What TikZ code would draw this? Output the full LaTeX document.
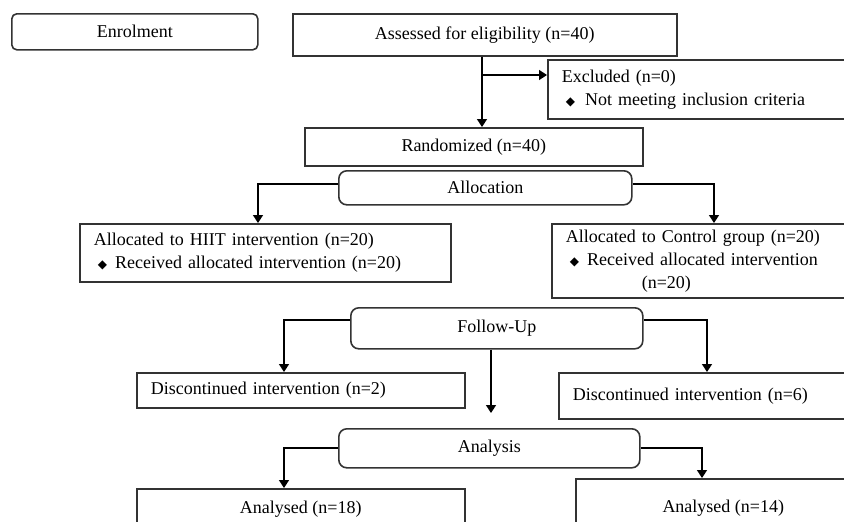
\documentclass[tikz,border=0pt]{standalone}
\usepackage{fontspec}
\setmainfont{Liberation Serif}
\newfontfamily\symfont{DejaVu Sans}
\usepackage{tikz}
\usetikzlibrary{arrows.meta, positioning}
\newcommand{\dmd}{{\symfont\fontsize{6}{6}\selectfont ◆}}

\begin{document}
\begin{tikzpicture}[
    x=0.5pt, y=-0.5pt,
    font=\fontsize{9}{11.5}\selectfont,
    box/.style={draw=black!80, line width=0.8pt, anchor=north west, inner ysep=2pt},
    lbox/.style={box, align=left, inner xsep=7pt},
    cbox/.style={box, align=center, inner sep=2pt},
    rbox/.style={cbox, rounded corners=4pt},
    arr/.style={line width=0.7pt, -{Triangle[length=4pt, width=5pt]}},
  ]
    \useasboundingbox (0,0) rectangle (844,521);
    \clip (0,0) rectangle (844,521);
    % enrolment
    \node[rbox, rounded corners=2.5pt, minimum width=123pt, minimum height=18pt]
          (enrol) at (11,13) {Enrolment};
    \node[cbox, minimum width=192pt, minimum height=21pt]
          (assess) at (292,13) {Assessed for eligibility (n=40)};
    \node[lbox, text width=147.5pt, minimum height=29.5pt]
          (excl) at (547,59) {Excluded (n=0)\\\hspace*{2pt}\dmd\hspace{5pt}Not meeting inclusion criteria};
    \node[cbox, minimum width=169pt, minimum height=19pt]
          (rand) at (304,127) {Randomized (n=40)};
    % allocation
    \node[rbox, minimum width=146.5pt, minimum height=17pt]
          (alloc) at (338,170) {Allocation};
    \node[lbox, text width=171.5pt, minimum height=29pt]
          (hiit) at (79,223) {Allocated to HIIT intervention (n=20)\\\hspace*{2pt}\dmd\hspace{4pt}Received allocated intervention (n=20)};
    \node[lbox, text width=145.5pt, minimum height=37pt]
          (ctrl) at (551,223) {Allocated to Control group (n=20)\\\hspace*{2pt}\dmd\hspace{4pt}Received allocated intervention\\\hspace*{38pt}(n=20)};
    % follow-up
    \node[rbox, minimum width=146pt, minimum height=20.5pt]
          (follow) at (350,307) {Follow-Up};
    \node[lbox, text width=150pt, minimum height=17.5pt]
          (disc1) at (136,372) {Discontinued intervention (n=2)};
    \node[lbox, text width=142pt, minimum height=23pt]
          (disc2) at (558,372) {Discontinued intervention (n=6)};
    % analysis
    \node[rbox, minimum width=150.5pt, minimum height=19.5pt]
          (analysis) at (338,428) {Analysis};
    \node[cbox, minimum width=164pt, minimum height=20pt]
          (res1) at (136,488) {Analysed (n=18)};
    \node[cbox, minimum width=147.5pt, minimum height=29pt]
          (res2) at (575,478) {Analysed (n=14)};
    % connectors
    \coordinate (split) at (482,75);
    \draw[line width=0.7pt] (assess.south -| split) -- (split);
    \draw[arr] (split) -- (rand.north -| split);
    \draw[arr] (split) -- (excl.west |- split);
    \coordinate (allocL) at (258,184);
    \coordinate (allocR) at (714,184);
    \draw[arr] (alloc.west |- allocL) -| (hiit.north -| allocL);
    \draw[arr] (alloc.east |- allocR) -| (ctrl.north -| allocR);
    \coordinate (fuL) at (284,320);
    \coordinate (fuR) at (707,320);
    \coordinate (fuEnd) at (491,413);
    \draw[arr] (follow.west |- fuL) -| (disc1.north -| fuL);
    \draw[arr] (follow.east |- fuR) -| (disc2.north -| fuR);
    \draw[arr] (follow.south -| fuEnd) -- (fuEnd);
    \coordinate (anL) at (284,448);
    \coordinate (anR) at (702,448);
    \draw[arr] (analysis.west |- anL) -| (res1.north -| anL);
    \draw[arr] (analysis.east |- anR) -| (res2.north -| anR);
\end{tikzpicture}
\end{document}
